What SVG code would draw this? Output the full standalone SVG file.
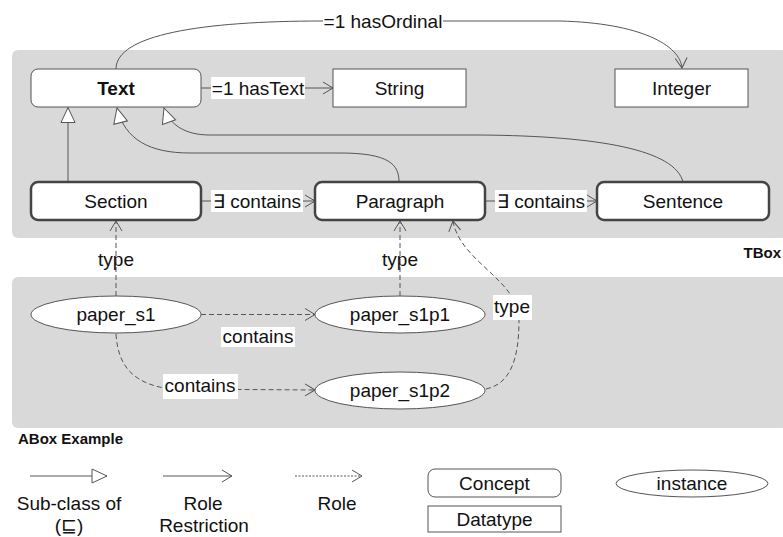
<svg xmlns="http://www.w3.org/2000/svg" width="783" height="537" viewBox="0 0 783 537">
  <style>
    text { font-family: "Liberation Sans", Arial, sans-serif; font-size: 19px; fill: #111; }
    .c { text-anchor: middle; }
    .b { font-weight: bold; }
    .panel { fill: #d9d9d9; }
    .concept { fill: #fff; stroke: #555; stroke-width: 1; }
    .concept-thick { fill: #fff; stroke: #444; stroke-width: 2.5; }
    .datatype { fill: #fff; stroke: #555; stroke-width: 1; }
    .inst { fill: #fff; stroke: #555; stroke-width: 1; }
    .edge { fill: none; stroke: #555; stroke-width: 1; }
    .dash { fill: none; stroke: #555; stroke-width: 1; stroke-dasharray: 5 3; }
    .dot { fill: none; stroke: #555; stroke-width: 1; stroke-dasharray: 2 1.5; }
    .lbl { fill: #fff; }
  </style>
  <defs>
    <marker id="open" markerUnits="userSpaceOnUse" markerWidth="14" markerHeight="16" refX="11" refY="7" orient="auto">
      <path d="M1,1 L11,7 L1,13" fill="none" stroke="#555" stroke-width="1"/>
    </marker>
    <marker id="tri" markerUnits="userSpaceOnUse" markerWidth="18" markerHeight="18" refX="16" refY="8" orient="auto">
      <path d="M1,1 L16,8 L1,15 Z" fill="#fff" stroke="#555" stroke-width="1"/>
    </marker>
  </defs>

  <!-- panels -->
  <rect class="panel" x="12" y="50" width="775" height="188" rx="6"/>
  <rect class="panel" x="12" y="277" width="775" height="151" rx="6"/>
  <text class="b" x="781" y="258" text-anchor="end" style="font-size:15px">TBox</text>
  <text class="b" x="18" y="444" style="font-size:15px">ABox Example</text>

  <!-- connectors -->
  <g id="connectors">
    <!-- hasOrdinal -->
    <path class="edge" d="M116,69 C116,35 200,21 323,21 M443,21 L560,21 C640,23 680,45 682,68" marker-end="url(#open)"/>
    <!-- hasText -->
    <path class="edge" d="M201,88 L333,88" marker-end="url(#open)"/>
    <!-- subclass edges -->
    <path class="edge" d="M68,182 L68,107.5" marker-end="url(#tri)"/>
    <path class="edge" d="M399,182 C399,165 390,153 340,153 L190,153 C150,153 125,140 117,108" marker-end="url(#tri)"/>
    <path class="edge" d="M683,182 C675,150 600,136 480,135 L210,135 C185,135 170,125 164,108" marker-end="url(#tri)"/>
    <!-- contains restrictions -->
    <path class="edge" d="M201,201 L315,201" marker-end="url(#open)"/>
    <path class="edge" d="M485,201 L597,201" marker-end="url(#open)"/>
    <!-- type assertions -->
    <path class="dash" d="M116,296 L116,221" marker-end="url(#open)"/>
    <path class="dash" d="M400,296 L400,221" marker-end="url(#open)"/>
    <path class="dash" d="M486,389 C510,384 519,360 519,320 C519,280 460,262 453,221" marker-end="url(#open)"/>
    <!-- contains assertions -->
    <path class="dash" d="M201,314.5 L315,314.5" marker-end="url(#open)"/>
    <path class="dash" d="M116,334 C118,368 135,384 170,389 L315,390" marker-end="url(#open)"/>

    <!-- edge labels -->
    <rect class="lbl" x="211" y="77" width="94" height="22"/>
    <text x="258" y="95" class="c">=1 hasText</text>
    <rect class="lbl" x="323" y="10" width="120" height="22"/>
    <text x="383" y="28" class="c">=1 hasOrdinal</text>
    <rect class="lbl" x="211" y="190" width="92" height="22"/>
    <text x="257" y="208" class="c">∃ contains</text>
    <rect class="lbl" x="495" y="190" width="92" height="22"/>
    <text x="541" y="208" class="c">∃ contains</text>
    <text x="116" y="266" class="c">type</text>
    <text x="400" y="266" class="c">type</text>
    <rect class="lbl" x="493" y="295" width="39" height="25"/>
    <text x="512" y="313" class="c">type</text>
    <rect class="lbl" x="221" y="327" width="74" height="20"/>
    <text x="258" y="343" class="c">contains</text>
    <rect class="lbl" x="163" y="374" width="75" height="25"/>
    <text x="200" y="392" class="c">contains</text>
  </g>

  <!-- TBox nodes -->
  <g id="text-node">
    <rect class="concept" x="31" y="69" width="170" height="38" rx="7"/>
    <text x="116" y="95" class="c b">Text</text>
  </g>
  <g id="string-node">
    <rect class="datatype" x="333" y="69" width="133" height="38"/>
    <text x="399.5" y="95" class="c">String</text>
  </g>
  <g id="integer-node">
    <rect class="datatype" x="615" y="69" width="133" height="38"/>
    <text x="681.5" y="95" class="c">Integer</text>
  </g>
  <g id="section-node">
    <rect class="concept-thick" x="31" y="182" width="170" height="38" rx="7"/>
    <text x="116" y="208" class="c">Section</text>
  </g>
  <g id="paragraph-node">
    <rect class="concept-thick" x="315" y="182" width="170" height="38" rx="7"/>
    <text x="400" y="208" class="c">Paragraph</text>
  </g>
  <g id="sentence-node">
    <rect class="concept-thick" x="597" y="182" width="172" height="38" rx="7"/>
    <text x="683" y="208" class="c">Sentence</text>
  </g>

  <!-- ABox nodes -->
  <g id="paper_s1">
    <ellipse class="inst" cx="116" cy="314.5" rx="85" ry="18.5"/>
    <text x="116" y="321" class="c">paper_s1</text>
  </g>
  <g id="paper_s1p1">
    <ellipse class="inst" cx="400" cy="314.5" rx="85" ry="18.5"/>
    <text x="400" y="321" class="c">paper_s1p1</text>
  </g>
  <g id="paper_s1p2">
    <ellipse class="inst" cx="400" cy="390.5" rx="85" ry="18.5"/>
    <text x="400" y="397" class="c">paper_s1p2</text>
  </g>

  <!-- legend -->
  <g id="legend">
    <path class="edge" d="M30,476 L107,476" marker-end="url(#tri)"/>
    <text x="69" y="510" class="c">Sub-class of</text>
    <text x="69" y="532" class="c">(⊑)</text>
    <path class="edge" d="M163,476 L232,476" marker-end="url(#open)"/>
    <text x="203" y="510" class="c">Role</text>
    <text x="204" y="532" class="c">Restriction</text>
    <path class="dot" d="M295,476 L362,476" marker-end="url(#open)"/>
    <text x="337" y="510" class="c">Role</text>
    <rect class="concept" x="428" y="469" width="133" height="28" rx="7"/>
    <text x="494.5" y="490" class="c">Concept</text>
    <rect class="datatype" x="428" y="506" width="133" height="26"/>
    <text x="494.5" y="526" class="c">Datatype</text>
    <ellipse class="inst" cx="692" cy="483.5" rx="76" ry="13.5"/>
    <text x="692" y="490" class="c">instance</text>
  </g>
</svg>
